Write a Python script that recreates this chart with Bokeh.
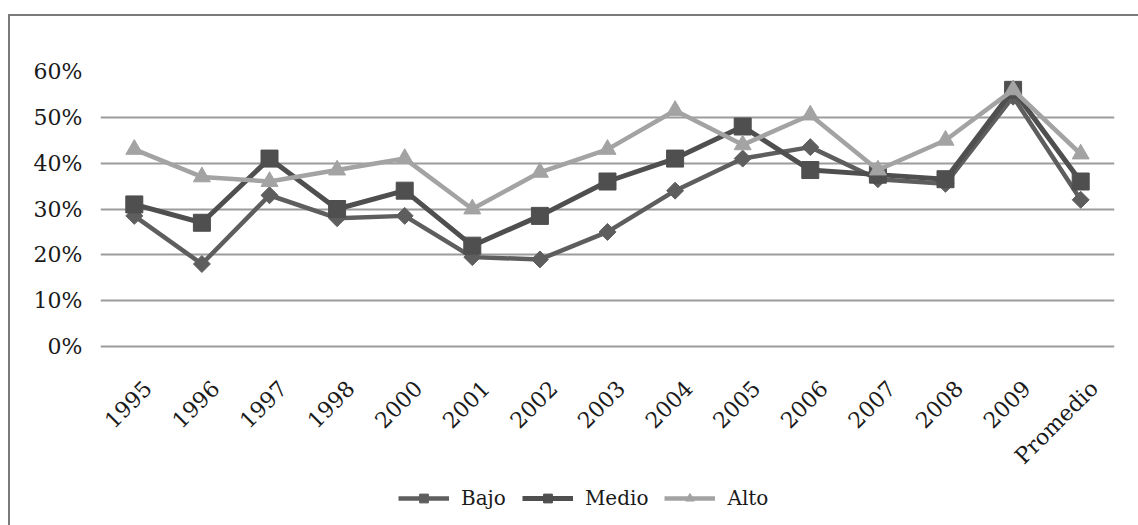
from bokeh.plotting import figure
from bokeh.models import (Range1d, FixedTicker, NumeralTickFormatter,
                          Legend, LegendItem)
from bokeh.core.properties import value
from bokeh.embed import file_html
from bokeh.resources import INLINE
import math

# Share of each group per year, plus the period average
categories = ["1995", "1996", "1997", "1998", "2000", "2001", "2002", "2003",
              "2004", "2005", "2006", "2007", "2008", "2009", "Promedio"]
bajo = [0.285, 0.18, 0.33, 0.28, 0.285, 0.195, 0.19, 0.25, 0.34, 0.41,
        0.435, 0.365, 0.355, 0.545, 0.32]
medio = [0.31, 0.27, 0.41, 0.30, 0.34, 0.22, 0.285, 0.36, 0.41, 0.48,
         0.385, 0.375, 0.365, 0.56, 0.36]
alto = [0.43, 0.37, 0.36, 0.385, 0.41, 0.30, 0.38, 0.43, 0.515, 0.44,
        0.505, 0.385, 0.45, 0.56, 0.42]
y_ticks = [0.0, 0.1, 0.2, 0.3, 0.4, 0.5, 0.6]

FONT = "DejaVu Serif"
n = len(categories)
# each category occupies one unit slot; points sit at the slot centres
x_pos = [i + 0.5 for i in range(n)]

# The frame runs down to the bottom edge so the rotated category labels and
# the legend can live inside it, below the 0% line.
PLOT_H = 275          # pixels between 0% and 60%
FRAME_H = 454
y_top = 0.6
y_bottom = y_top - y_top * FRAME_H / PLOT_H

p = figure(
    x_range=Range1d(0, n),
    y_range=Range1d(y_bottom, y_top),
    frame_width=1014, frame_height=FRAME_H,
    output_backend="svg", toolbar_location=None,
    x_axis_location=None,
    min_border_left=90, min_border_right=24,
    min_border_top=55, min_border_bottom=0,
)
p.margin = (14, 0, 0, 8)
p.styles = {"border-left": "2px solid #7a7a7a", "border-top": "2px solid #7a7a7a"}
p.outline_line_color = None
p.background_fill_color = "white"
p.border_fill_color = "white"

# Y axis: percentages, no line or ticks
p.yaxis.ticker = FixedTicker(ticks=y_ticks)
p.yaxis.formatter = NumeralTickFormatter(format="0%")
p.yaxis.axis_line_color = None
p.yaxis.major_tick_line_color = None
p.yaxis.minor_tick_line_color = None
p.yaxis.major_label_standoff = 12
p.yaxis.major_label_text_font = FONT
p.yaxis.major_label_text_font_size = "22px"
p.yaxis.major_label_text_color = "#1a1a1a"

p.xgrid.grid_line_color = None
p.ygrid.ticker = FixedTicker(ticks=y_ticks)
p.ygrid.grid_line_color = "#9c9c9c"
p.ygrid.grid_line_width = 2

# Category labels, rotated 45 degrees, hanging below the 0% line
p.text(x=x_pos, y=[0.0] * n, text=categories, angle=math.pi / 4,
       x_offset=13.5, y_offset=38, text_align="right", text_baseline="middle",
       text_font=value(FONT), text_font_size="22px", text_color="#1a1a1a")

series = [
    # name, values, colour, marker, size, angle, line width
    ("Bajo", bajo, "#5e5e5e", "square", 12, math.pi / 4, 4.5),
    ("Medio", medio, "#4f4f4f", "square", 17, 0.0, 5),
    ("Alto", alto, "#a3a3a3", "triangle", 17, 0.0, 4.5),
]
items = []
for name, vals, color, marker, size, ang, lw in series:
    r1 = p.line(x_pos, vals, line_color=color, line_width=lw)
    r2 = p.scatter(x_pos, vals, marker=marker, size=size, angle=ang,
                   fill_color=color, line_color=color)
    items.append(LegendItem(label=name, renderers=[r1, r2]))

# legend placed from the frame's lower-left corner, under the labels
legend = Legend(items=items, orientation="horizontal", location=(298, 15))
legend.border_line_color = None
legend.background_fill_alpha = 0
legend.label_text_font = FONT
legend.label_text_font_size = "20px"
legend.label_text_color = "#1a1a1a"
legend.glyph_width = 51
legend.glyph_height = 22
legend.label_standoff = 12
legend.spacing = 16
legend.padding = 0
legend.margin = 0
p.add_layout(legend, "center")

open("out.html", "w").write(file_html(p, INLINE))
